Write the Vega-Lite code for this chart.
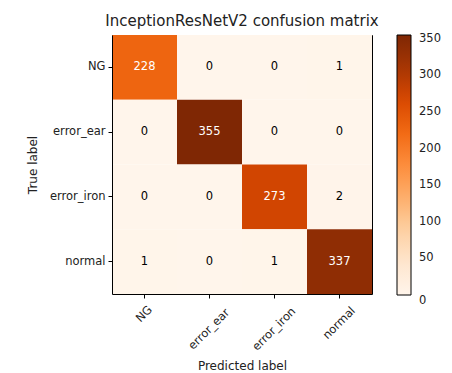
{
  "$schema": "https://vega.github.io/schema/vega-lite/v6.json",
  "autosize": "none",
  "padding": {"left": 112, "top": 35, "right": 80, "bottom": 79},
  "width": 260,
  "height": 259,
  "title": {"text": "InceptionResNetV2 confusion matrix", "font": "DejaVu Sans", "fontSize": 15, "fontWeight": "normal", "color": "#222", "offset": 6},
  "config": {
    "view": {"stroke": null},
    "font": "DejaVu Sans"
  },
  "data": {"values": [
    {"true": "NG", "pred": "NG", "v": 228},
    {"true": "NG", "pred": "error_ear", "v": 0},
    {"true": "NG", "pred": "error_iron", "v": 0},
    {"true": "NG", "pred": "normal", "v": 1},
    {"true": "error_ear", "pred": "NG", "v": 0},
    {"true": "error_ear", "pred": "error_ear", "v": 355},
    {"true": "error_ear", "pred": "error_iron", "v": 0},
    {"true": "error_ear", "pred": "normal", "v": 0},
    {"true": "error_iron", "pred": "NG", "v": 0},
    {"true": "error_iron", "pred": "error_ear", "v": 0},
    {"true": "error_iron", "pred": "error_iron", "v": 273},
    {"true": "error_iron", "pred": "normal", "v": 2},
    {"true": "normal", "pred": "NG", "v": 1},
    {"true": "normal", "pred": "error_ear", "v": 0},
    {"true": "normal", "pred": "error_iron", "v": 1},
    {"true": "normal", "pred": "normal", "v": 337}
  ]},
  "resolve": {"axis": {"x": "independent", "y": "independent"}},
  "layer": [
    {"mark": {"type": "rect"},
     "encoding": {
       "x": {"field": "pred", "type": "nominal", "sort": ["NG", "error_ear", "error_iron", "normal"],
         "scale": {"paddingInner": 0, "paddingOuter": 0},
         "axis": {"title": "Predicted label", "labelAngle": -45, "labelAlign": "center", "labelBaseline": "middle",
           "labelPadding": {"condition": [
             {"test": "datum.value === 'NG'", "value": 16},
             {"test": "datum.value === 'normal'", "value": 25}], "value": 31},
           "labelFontSize": 11.5, "labelColor": "#222", "titleFontSize": 12, "titleFontWeight": "normal", "titleColor": "#222",
           "titleY": 66, "titleBaseline": "top",
           "tickColor": "black", "tickSize": 4, "domain": true, "domainColor": "black"}},
       "y": {"field": "true", "type": "nominal", "sort": ["NG", "error_ear", "error_iron", "normal"],
         "scale": {"paddingInner": 0, "paddingOuter": 0},
         "axis": {"title": "True label", "labelFontSize": 11.5, "labelColor": "#222", "titleFontSize": 12, "titleFontWeight": "normal", "titleColor": "#222", "tickColor": "black", "tickSize": 4, "domain": true, "domainColor": "black", "labelPadding": 3, "titlePadding": 10}},
       "color": {"field": "v", "type": "quantitative",
        "scale": {"domain": [0, 355], "range": ["#fff5eb", "#fee6ce", "#fdd0a2", "#fdae6b", "#fd8d3c", "#f16913", "#d94801", "#a63603", "#7f2704"]},
        "legend": {"title": null, "orient": "right", "offset": 25, "direction": "vertical", "gradientLength": 260, "gradientThickness": 14, "values": [0, 50, 100, 150, 200, 250, 300, 350], "labelFontSize": 11.5, "labelColor": "#222", "gradientStrokeColor": "black", "gradientStrokeWidth": 1, "labelOffset": 8,
          "encode": {"labels": {"update": {"baseline": {"signal": "datum.value === 0 ? 'top' : 'middle'"}}}}}}}},
    {"mark": {"type": "text", "fontSize": 11.5},
     "encoding": {
       "x": {"field": "pred", "type": "nominal", "sort": ["NG", "error_ear", "error_iron", "normal"],
         "axis": {"orient": "top", "title": null, "labels": false, "ticks": false, "domain": true, "domainColor": "black"}},
       "y": {"field": "true", "type": "nominal", "sort": ["NG", "error_ear", "error_iron", "normal"],
         "axis": {"orient": "right", "title": null, "labels": false, "ticks": false, "domain": true, "domainColor": "black"}},
       "text": {"field": "v", "type": "quantitative"},
       "color": {"condition": {"test": "datum.v > 177.5", "value": "white"}, "value": "black"}}}
  ]
}
